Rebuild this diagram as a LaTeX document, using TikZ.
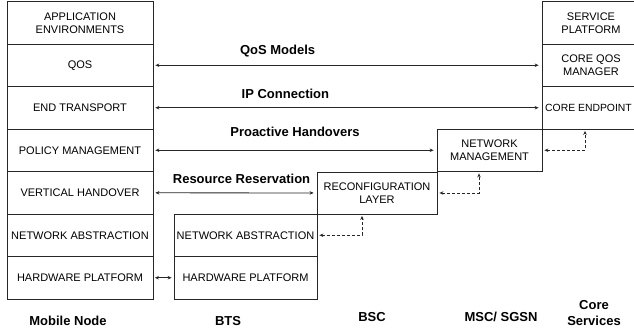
\documentclass[tikz,border=0pt]{standalone}
\usepackage{fontspec}
\setmainfont{Liberation Sans}
\usetikzlibrary{arrows.meta}

\begin{document}
\begin{tikzpicture}[x=1bp, y=-1bp, >={Stealth[length=4bp,width=3.5bp]},
    layer/.style={draw=black!85, rectangle, align=center, inner sep=0pt, line width=0.8bp,
        font=\fontsize{11bp}{13bp}\selectfont},
    mobile/.style={layer, minimum width=146bp, minimum height=42.5bp},
    bts/.style={layer, minimum width=143bp, minimum height=42.5bp},
    core/.style={layer, minimum width=98bp, minimum height=42.5bp},
    link/.style={font=\bfseries\fontsize{13bp}{16bp}\selectfont, align=center},
    signal/.style={<->, draw=black!85, line width=0.8bp, shorten <=2bp, shorten >=3bp},
    feedback/.style={<->, draw=black!85, line width=0.8bp, dash pattern=on 3bp off 2bp,
        shorten <=2bp, shorten >=1.5bp}]

\useasboundingbox (0,0) rectangle (634,332);
\clip (0,0) rectangle (634,332);

    % Mobile node stack
    \node[mobile] (app) at (80,22.75) {APPLICATION\\ENVIRONMENTS};
    \node[mobile] (qos) at (80,65.25) {QOS};
    \node[mobile] (endtr) at (80,107.75) {END TRANSPORT};
    \node[mobile] (policy) at (80,150.25) {POLICY MANAGEMENT};
    \node[mobile] (vert) at (80,192.75) {VERTICAL HANDOVER};
    \node[mobile] (netabs) at (80,235.25) {NETWORK ABSTRACTION};
    \node[mobile] (hw) at (80,277.75) {HARDWARE PLATFORM};

    % BTS, BSC and MSC boxes
    \node[bts] (btsabs) at (245.5,235.25) {NETWORK ABSTRACTION};
    \node[bts] (btshw) at (245.5,277.75) {HARDWARE PLATFORM};
    \node[layer, minimum width=120bp, minimum height=42bp] (reconf) at (377,193) {RECONFIGURATION\\LAYER};
    \node[layer, minimum width=105bp, minimum height=42.5bp] (netmgmt) at (489.5,150.25) {NETWORK\\MANAGEMENT};

    % Core services stack
    \node[core] (service) at (591,22.75) {SERVICE\\PLATFORM};
    \node[core] (coreqos) at (591,65.25) {CORE QOS\\MANAGER};
    \node[core, minimum width=93bp, font=\fontsize{10.4bp}{13bp}\selectfont] (coreep) at (588.5,107.75) {CORE ENDPOINT};

    % Signalling between the stacks
    \draw[signal] (qos) -- (coreqos) node[link, pos=0.32, above=4bp] {QoS Models};
    \draw[signal] (endtr) -- (coreep) node[link, pos=0.34, above=5bp] {IP Connection};
    \draw[signal] (policy) -- (netmgmt) node[link, pos=0.5, above=10bp] {Proactive Handovers};
    \draw[signal] (vert) -- (reconf) node[link, pos=0.54, above=6bp] {Resource Reservation};
    \draw[signal, shorten <=1.5bp, shorten >=2bp] (hw) -- (btshw);

    % Dashed feedback links
    \draw[feedback] (btsabs.east) -| ([xshift=-15bp]reconf.south);
    \draw[feedback] (reconf.east) -| ([xshift=-10.5bp]netmgmt.south);
    \draw[feedback] (netmgmt.east) -| ([xshift=-3.5bp]coreep.south);

    % Entity names
    \node[link] (mnname) at (68,321) {Mobile Node};
    \node[link] (btsname) at (228,321) {BTS};
    \node[link] (bscname) at (372,317) {BSC};
    \node[link] (mscname) at (501,317) {MSC/ SGSN};
    \node[link] (corename) at (594,313) {Core\\Services};

\end{tikzpicture}
\end{document}
